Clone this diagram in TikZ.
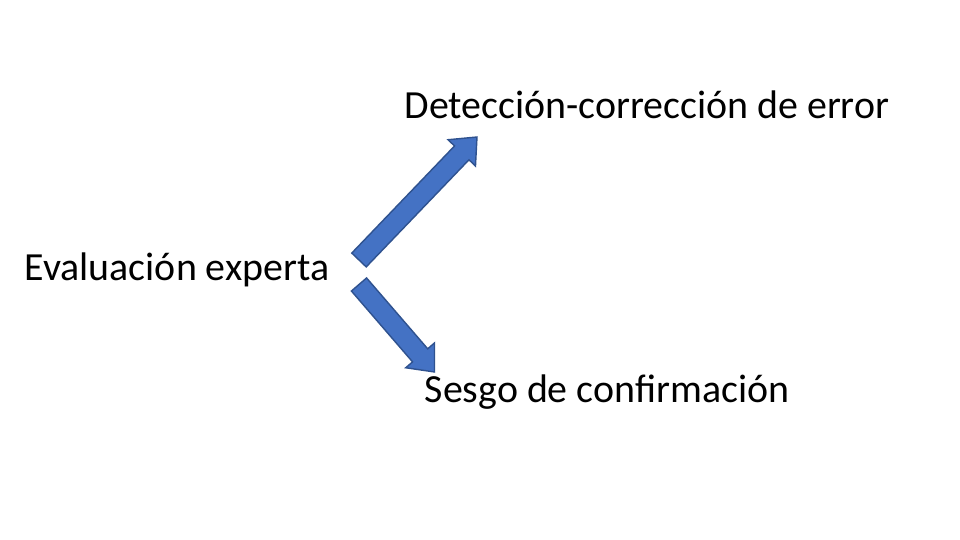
\documentclass[tikz,border=0pt]{standalone}
\usepackage{fontspec}
\setmainfont{Carlito}
\usepackage{tikz}
\usetikzlibrary{positioning,calc}

\definecolor{arrowblue}{HTML}{4472C4}
\definecolor{arrowedge}{HTML}{2F528F}

% block arrow from #1 (tail) to #2 (tip)
\newcommand{\blockarrow}[2]{%
  \coordinate (hb) at ($(#2)!0.22cm!(#1)$);
  \filldraw[fatarrow]
    ($(#1)!0.1cm!90:(#2)$) -- ($(hb)!0.1cm!90:(#2)$) -- ($(hb)!0.19cm!90:(#2)$)
    -- (#2) -- ($(hb)!0.19cm!-90:(#2)$) -- ($(hb)!0.1cm!-90:(#2)$)
    -- ($(#1)!0.1cm!-90:(#2)$) -- cycle;}

\begin{document}
\begin{tikzpicture}[
    label/.style={anchor=west, inner sep=0pt, font=\fontsize{11.35}{13}\selectfont},
    fatarrow/.style={fill=arrowblue, draw=arrowedge, line width=0.4pt, line join=miter}
]
    \useasboundingbox[fill=white] (0,0) rectangle (9.6,-5.4);

    % Texts
    \node[label] (eval) at (0.24,-2.70) {Evaluación experta};
    \node[label] (detect) at (4.04,-1.05) {Detección-corrección de error};
    \node[label] (sesgo) at (4.24,-3.92) {Sesgo de confirmación};

    % Arrow ends
    \coordinate (upTail) at (3.59,-2.60);
    \coordinate (upTip) at (4.77,-1.37);
    \coordinate (downTail) at (3.59,-2.845);
    \coordinate (downTip) at (4.345,-3.72);

    % Arrows
    \blockarrow{upTail}{upTip}
    \blockarrow{downTail}{downTip}
\end{tikzpicture}
\end{document}
